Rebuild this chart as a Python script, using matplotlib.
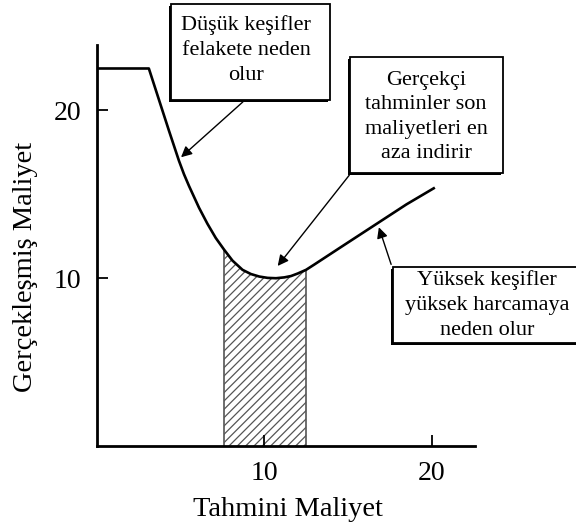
import matplotlib.pyplot as plt
import matplotlib.patches as patches
import numpy as np

plt.rcParams['font.family'] = ['Liberation Serif', 'DejaVu Serif']
plt.rcParams['hatch.linewidth'] = 0.9
plt.rcParams['hatch.color'] = '#555555'

##--------------data--------------
est_cost = [0, 3.1, 4.3, 4.9, 5.2, 5.5, 6.1, 6.6, 7.1, 7.6, 8.1, 8.7, 9.2, 9.7, 10.2, 10.7,
            11.2, 11.6, 12.0, 12.5, 13.0, 14.5, 16.5, 18.5, 20.2]
real_cost = [22.5, 22.5, 18.8, 17.0, 16.2, 15.5, 14.2, 13.25, 12.4, 11.7, 11.05, 10.5, 10.25, 10.1, 10.02, 10.0,
             10.05, 10.13, 10.28, 10.5, 10.82, 11.8, 13.1, 14.4, 15.4]
band = [7.6, 12.5]          # realistic estimate range (hatched)
xticks = [10, 20]
yticks = [10, 20]

notes = ["Düşük keşifler\nfelakete neden\nolur",
         "Gerçekçi\ntahminler son\nmaliyetleri en\naza indirir",
         "Yüksek keşifler\nyüksek harcamaya\nneden olur"]
note_x = [4.9, 10.7, 16.8]   # where each arrow touches the curve

W, H = 576, 529
fig = plt.figure(figsize=(W/100, H/100), dpi=100)
ax = fig.add_axes([97/W, 1-446/H, 378/W, 401/H])

def fx(px):
    return px/W
def fy(py):
    return 1-py/H

ax.plot(est_cost, real_cost, 'k-', linewidth=1.9, solid_capstyle='butt', solid_joinstyle='round', zorder=3)

xb = np.linspace(band[0], band[1], 60)
yb = np.interp(xb, est_cost, real_cost)
ax.fill_between(xb, 0, yb, facecolor='white', edgecolor='#555555', hatch='////', linewidth=0, zorder=1)
for b in band:
    ax.plot([b, b], [0, np.interp(b, est_cost, real_cost)], color='#555555', linewidth=1.2, zorder=2)

ax.set_xlim(0, 22.6)
ax.set_ylim(0, 23.9)
ax.set_xticks(xticks)
ax.set_yticks(yticks)
ax.tick_params(direction='in', length=8, width=1.3, labelsize=20, pad=11)
ax.spines['top'].set_visible(False)
ax.spines['right'].set_visible(False)
for s in ['left', 'bottom']:
    ax.spines[s].set_linewidth(2)

fig.text(fx(288), fy(510), "Tahmini Maliyet", fontsize=20.5, ha='center', va='center')
fig.text(fx(26), fy(267), "Gerçekleşmiş Maliyet", fontsize=20.5, ha='center', va='center', rotation=90)

##--------------boxes with shadow--------------
boxes = [(171, 4, 330, 100), (350, 57, 503, 173), (393, 267, 580, 343)]
text_y = [(246, 50), (426, 117), (487, 305)]
arrow_from = [(245, 100), (351, 173), (392, 267)]

for (l, t, r, b), txt, (tx, ty) in zip(boxes, notes, text_y):
    sh = patches.Rectangle((fx(l-2), fy(b+2)), (r-l)/W, (b-t)/H, transform=fig.transFigure,
                           facecolor='black', edgecolor='black', linewidth=0, zorder=5)
    bx = patches.Rectangle((fx(l), fy(b)), (r-l)/W, (b-t)/H, transform=fig.transFigure,
                           facecolor='white', edgecolor='black', linewidth=1.3, zorder=6)
    fig.patches.extend([sh, bx])
    fig.text(fx(tx), fy(ty), txt, fontsize=16, ha='center', va='center', linespacing=1.4, zorder=7)

for x0, (sx, sy) in zip(note_x, arrow_from):
    y0 = np.interp(x0, est_cost, real_cost)
    off = 0.6 if x0 < 12 else -0.1
    ax.annotate("", xy=(x0, y0 + (0.1 if x0 < 6 else off)), xycoords='data',
                xytext=(sx, H - sy), textcoords='figure pixels',
                arrowprops=dict(arrowstyle='-|>', color='black', lw=1.0, mutation_scale=16),
                zorder=4, annotation_clip=False)

plt.savefig('out.png', dpi=100)
